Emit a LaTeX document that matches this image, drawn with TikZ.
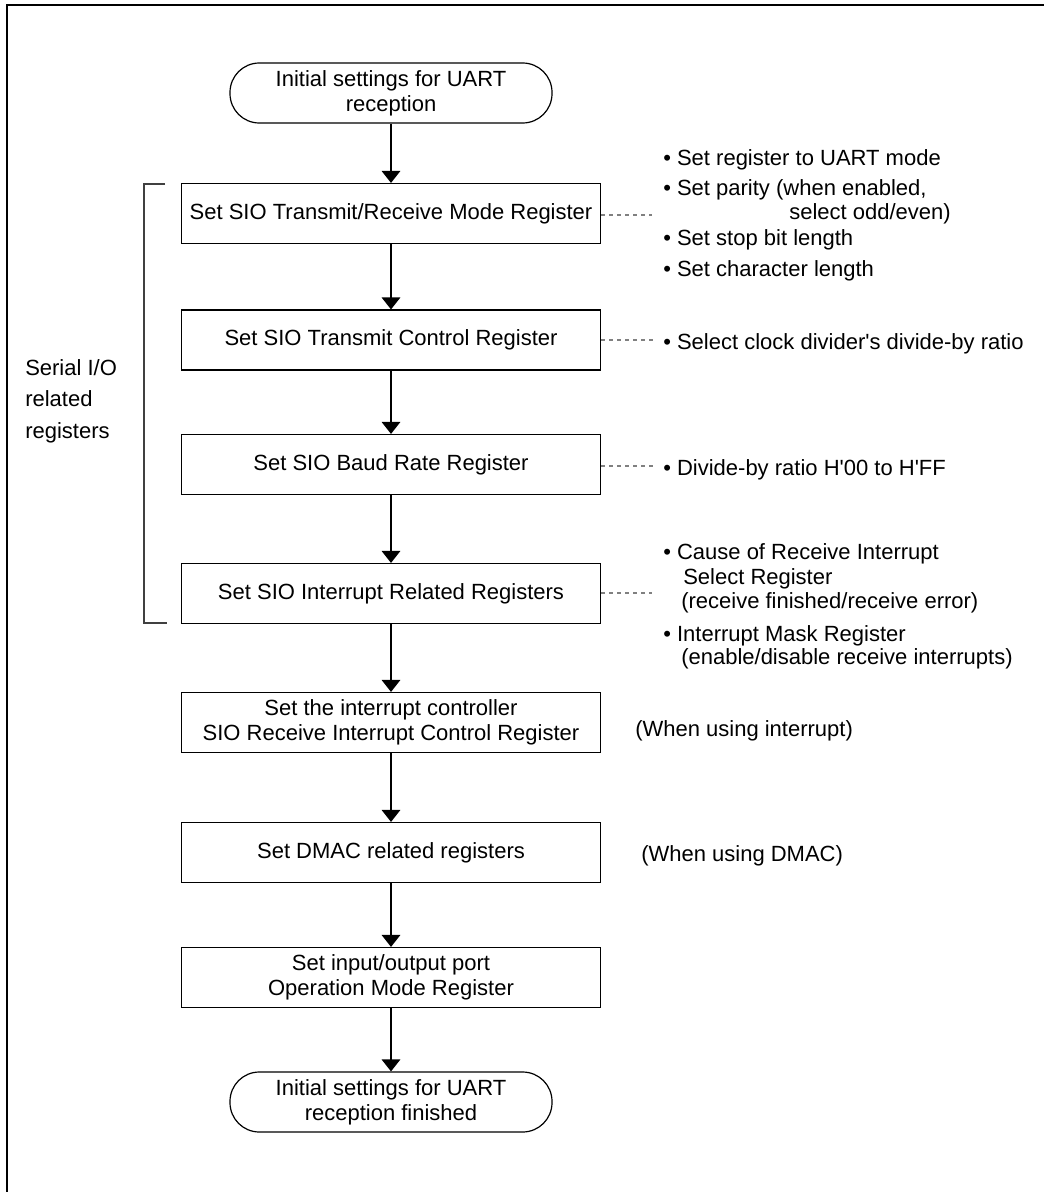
\documentclass[tikz,border=0pt]{standalone}
\usepackage{fontspec}
\setmainfont{Liberation Sans}
\usetikzlibrary{arrows.meta}
\begin{document}
\begin{tikzpicture}[x=0.75pt,y=-0.75pt,
  every node/.style={font=\fontsize{16.5}{18.75}\selectfont, inner sep=0pt},
  proc/.style={draw, line width=0.9pt, minimum width=419*0.75pt, minimum height=60*0.75pt, align=center},
  term/.style={draw, line width=0.9pt, rounded corners=22pt, minimum width=322*0.75pt, minimum height=60*0.75pt, align=center},
  flow/.style={line width=0.9pt, -{Triangle[length=9pt,width=14pt]}},
  leader/.style={gray, line width=0.8pt, dash pattern=on 3pt off 3pt},
  note/.style={anchor=base west},
  brk/.style={line width=0.9pt, black!75}
]
\useasboundingbox (0,0) rectangle (1044,1192);
% frame
\draw[line width=1.5pt] (7,1192) -- (7,5) -- (1044,5);

% flow nodes
\node[term] (start) at (391,93) {Initial settings for UART\\reception};
\node[proc] (b1) at (391,213.5) {Set SIO Transmit/Receive Mode Register};
\node[proc] (b2) at (391,340) {Set SIO Transmit Control Register};
\node[proc] (b3) at (391,464.5) {Set SIO Baud Rate Register};
\node[proc] (b4) at (391,593.5) {Set SIO Interrupt Related Registers};
\node[proc] (b5) at (391,722.5) {Set the interrupt controller\\SIO Receive Interrupt Control Register};
\node[proc] (b6) at (391,852.5) {Set DMAC related registers};
\node[proc] (b7) at (391,977.5) {Set input/output port\\Operation Mode Register};
\node[term] (stop) at (391,1102) {Initial settings for UART\\reception finished};

\draw[flow] (start) -- (b1);
\draw[flow] (b1) -- (b2);
\draw[flow] (b2) -- (b3);
\draw[flow] (b3) -- (b4);
\draw[flow] (b4) -- (b5);
\draw[flow] (b5) -- (b6);
\draw[flow] (b6) -- (b7);
\draw[flow] (b7) -- (stop);

% bracket
\coordinate (bt1) at (165,184);
\coordinate (bt2) at (144,184);
\coordinate (bb2) at (144,623);
\coordinate (bb1) at (167,623);
\draw[brk] (bt1) -- (bt2) -- (bb2) -- (bb1);
\node[note] (ser1) at (25,375) {Serial I/O};
\node[note] (ser2) at (25,406) {related};
\node[note] (ser3) at (25,438) {registers};

% leaders
\coordinate (l1) at (652,215);
\coordinate (l2) at (655,340);
\coordinate (l3) at (655,466);
\coordinate (l4) at (652,593);
\draw[leader] (b1.east |- l1) -- (l1);
\draw[leader] (b2.east |- l2) -- (l2);
\draw[leader] (b3.east |- l3) -- (l3);
\draw[leader] (b4.east |- l4) -- (l4);

% notes box 1
\node[note] (n1a) at (663,165) {• Set register to UART mode};
\node[note] (n1b) at (663,195) {• Set parity (when enabled,};
\node[note] (n1c) at (789,219) {select odd/even)};
\node[note] (n1d) at (663,245) {• Set stop bit length};
\node[note] (n1e) at (663,276) {• Set character length};
% box 2
\node[note] (n2) at (663,349) {• Select clock divider\textquotesingle s divide-by ratio};
% box 3
\node[note] (n3) at (663,475) {• Divide-by ratio H\textquotesingle 00 to H\textquotesingle FF};
% box 4
\node[note] (n4a) at (663,559) {• Cause of Receive Interrupt};
\node[note] (n4b) at (683,584) {Select Register};
\node[note] (n4c) at (681,608) {(receive finished/receive error)};
\node[note] (n4d) at (663,641) {• Interrupt Mask Register};
\node[note] (n4e) at (681,664) {(enable/disable receive interrupts)};
% box 5, 6
\node[note] (n5) at (635,736) {(When using interrupt)};
\node[note] (n6) at (641,861) {(When using DMAC)};
\end{tikzpicture}
\end{document}
